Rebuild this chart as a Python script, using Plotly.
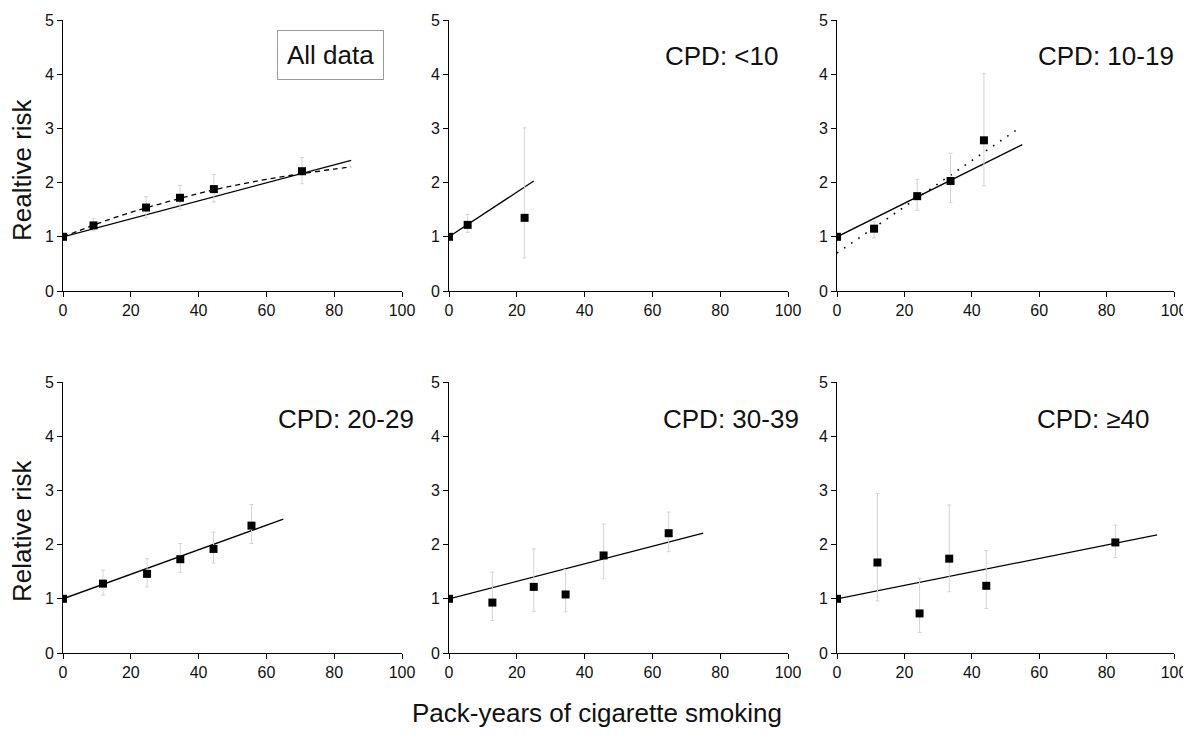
import plotly.graph_objects as go
from plotly.subplots import make_subplots

# ---------------- data ----------------
panel_labels = ["All data", "CPD: <10", "CPD: 10-19", "CPD: 20-29", "CPD: 30-39", "CPD: \u226540"]

x_ticks = [0, 20, 40, 60, 80, 100]
y_ticks = [0, 1, 2, 3, 4, 5]

# All data
all_x = [0, 9, 24.5, 34.5, 44.5, 70.5]
all_rr = [1.0, 1.21, 1.54, 1.72, 1.88, 2.21]
all_lo = [1.0, 1.11, 1.35, 1.51, 1.64, 1.98]
all_hi = [1.0, 1.34, 1.74, 1.95, 2.15, 2.46]
all_fit_x = [0, 85]
all_fit_y = [1.0, 2.41]
all_curve_x = [0, 5, 10, 20, 30, 40, 50, 60, 70, 80, 85]
all_curve_y = [1.0, 1.12, 1.24, 1.45, 1.63, 1.80, 1.94, 2.06, 2.16, 2.25, 2.29]

# CPD <10
c1_x = [0, 5.5, 22.3]
c1_rr = [1.0, 1.22, 1.35]
c1_lo = [1.0, 1.08, 0.61]
c1_hi = [1.0, 1.41, 3.01]
c1_fit_x = [0, 25]
c1_fit_y = [1.0, 2.03]

# CPD 10-19
c2_x = [0, 11, 23.8, 33.7, 43.6]
c2_rr = [1.0, 1.15, 1.75, 2.03, 2.78]
c2_lo = [1.0, 0.98, 1.49, 1.63, 1.94]
c2_hi = [1.0, 1.28, 2.06, 2.54, 4.01]
c2_fit_x = [0, 55]
c2_fit_y = [1.0, 2.70]
c2_alt_x = [0, 53]
c2_alt_y = [0.70, 2.96]

# CPD 20-29
c3_x = [0, 11.8, 24.8, 34.6, 44.4, 55.6]
c3_rr = [1.0, 1.28, 1.46, 1.73, 1.92, 2.35]
c3_lo = [1.0, 1.07, 1.22, 1.49, 1.66, 2.02]
c3_hi = [1.0, 1.53, 1.74, 2.02, 2.23, 2.74]
c3_fit_x = [0, 65]
c3_fit_y = [1.0, 2.47]

# CPD 30-39
c4_x = [0, 12.8, 25.0, 34.4, 45.6, 64.8]
c4_rr = [1.0, 0.93, 1.22, 1.08, 1.80, 2.21]
c4_lo = [1.0, 0.60, 0.77, 0.76, 1.37, 1.87]
c4_hi = [1.0, 1.49, 1.92, 1.54, 2.38, 2.60]
c4_fit_x = [0, 75]
c4_fit_y = [1.0, 2.21]

# CPD >=40
c5_x = [0, 12.0, 24.5, 33.3, 44.3, 82.6]
c5_rr = [1.0, 1.67, 0.73, 1.74, 1.24, 2.04]
c5_lo = [1.0, 0.96, 0.38, 1.13, 0.82, 1.76]
c5_hi = [1.0, 2.94, 1.38, 2.73, 1.89, 2.36]
c5_fit_x = [0, 95]
c5_fit_y = [1.0, 2.18]

panels = [
    (all_x, all_rr, all_lo, all_hi, all_fit_x, all_fit_y),
    (c1_x, c1_rr, c1_lo, c1_hi, c1_fit_x, c1_fit_y),
    (c2_x, c2_rr, c2_lo, c2_hi, c2_fit_x, c2_fit_y),
    (c3_x, c3_rr, c3_lo, c3_hi, c3_fit_x, c3_fit_y),
    (c4_x, c4_rr, c4_lo, c4_hi, c4_fit_x, c4_fit_y),
    (c5_x, c5_rr, c5_lo, c5_hi, c5_fit_x, c5_fit_y),
]

# ---------------- figure ----------------
OFF = 8                      # page body margin
W, H = 1191 - OFF, 743 - OFF
FONT = "Liberation Sans, Arial, Helvetica, sans-serif"
BIG = 26

fig = make_subplots(rows=2, cols=3)

for i, (px, prr, plo, phi, fx, fy) in enumerate(panels):
    r, c = i // 3 + 1, i % 3 + 1
    fig.add_trace(go.Scatter(x=fx, y=fy, mode="lines",
                             line=dict(color="black", width=1.3),
                             showlegend=False, hoverinfo="skip"), row=r, col=c)
    if i == 0:
        fig.add_trace(go.Scatter(x=all_curve_x, y=all_curve_y, mode="lines",
                                 line=dict(color="black", width=1.3, dash="5px,4px", shape="spline"),
                                 showlegend=False, hoverinfo="skip"), row=r, col=c)
    if i == 2:
        fig.add_trace(go.Scatter(x=c2_alt_x, y=c2_alt_y, mode="lines",
                                 line=dict(color="black", width=1.6, dash="1.6px,7px"),
                                 showlegend=False, hoverinfo="skip"), row=r, col=c)
    fig.add_trace(go.Scatter(
        x=px, y=prr, mode="markers",
        marker=dict(symbol="square", size=8, color="black"),
        error_y=dict(type="data", symmetric=False,
                     array=[h - v for h, v in zip(phi, prr)],
                     arrayminus=[v - l for v, l in zip(prr, plo)],
                     color="#d4d4d4", thickness=1, width=2),
        showlegend=False), row=r, col=c)

# domains in screen-pixel terms (reference picture)
x_dom = [(63, 402), (449, 788), (837, 1174)]
y_dom = [(20, 291), (382, 653)]


def px_x(p):
    return (p - OFF) / W


def px_y(p):
    return 1 - (p - OFF) / H


axis_common = dict(showgrid=False, zeroline=False, showline=True, linecolor="black",
                   linewidth=1, ticks="outside", ticklen=5, tickwidth=1, tickcolor="black",
                   automargin=False,
                   tickfont=dict(family=FONT, size=16, color="#111"))

for i in range(6):
    r, c = i // 3, i % 3
    xd = [px_x(x_dom[c][0]), px_x(x_dom[c][1])]
    yd = [px_y(y_dom[r][1]), px_y(y_dom[r][0])]
    fig.update_xaxes(domain=xd, range=[0, 100], tickvals=x_ticks, **axis_common, row=r + 1, col=c + 1)
    fig.update_yaxes(domain=yd, range=[0, 5], tickvals=y_ticks, **axis_common, row=r + 1, col=c + 1)

annotations = []
label_pos = [(0.788, 0.87), (0.804, 0.867), (0.797, 0.867), (0.834, 0.862), (0.831, 0.862), (0.76, 0.862)]
for i, lab in enumerate(panel_labels):
    ax = "" if i == 0 else str(i + 1)
    a = dict(text=lab, xref=f"x{ax} domain", yref=f"y{ax} domain",
             x=label_pos[i][0], y=label_pos[i][1], xanchor="center", yanchor="middle",
             showarrow=False, font=dict(family=FONT, size=BIG, color="#111"))
    if i == 0:
        a.update(bordercolor="#9a9a9a", borderwidth=1, borderpad=9, bgcolor="white")
    annotations.append(a)

annotations.append(dict(text="Realtive risk", xref="paper", yref="paper", x=px_x(22), y=px_y(170),
                        textangle=-90, showarrow=False, xanchor="center", yanchor="middle",
                        font=dict(family=FONT, size=BIG, color="#111")))
annotations.append(dict(text="Relative risk", xref="paper", yref="paper", x=px_x(22), y=px_y(531),
                        textangle=-90, showarrow=False, xanchor="center", yanchor="middle",
                        font=dict(family=FONT, size=BIG, color="#111")))
annotations.append(dict(text="Pack-years of cigarette smoking", xref="paper", yref="paper",
                        x=px_x(597), y=px_y(713), showarrow=False, xanchor="center", yanchor="middle",
                        font=dict(family=FONT, size=BIG, color="#111")))

fig.update_layout(width=W, height=H, margin=dict(l=0, r=0, t=0, b=0, autoexpand=False),
                  template="none",
                  plot_bgcolor="white", paper_bgcolor="white",
                  annotations=annotations, font=dict(family=FONT))

fig.write_html("out.html")
